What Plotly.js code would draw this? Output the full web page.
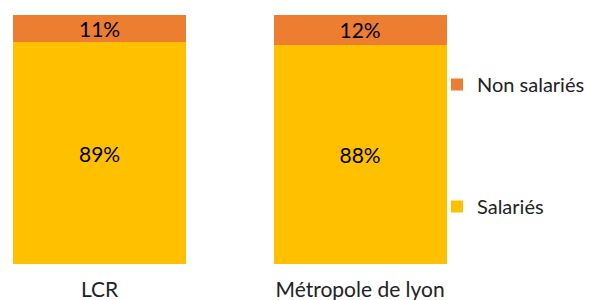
<!DOCTYPE html>
<html><head><meta charset="utf-8">
<script src="https://cdn.plot.ly/plotly-3.0.1.min.js"></script>
<style>body{margin:0}#c{width:589px;height:300px}</style>
</head><body><div id="c"></div>
<script>
const categories = ["LCR", "Métropole de lyon"];
const salaries = [89, 88];
const nonSalaries = [11, 12];
const seriesNames = ["Salariés", "Non salariés"];
const colors = ["#FFC000", "#ED7D31"];
const FONT = "Lato, 'Open Sans', sans-serif";
const FS = 21;

const traces = [
  {type:"bar", x:categories, y:salaries, name:seriesNames[0], marker:{color:colors[0]},
   text:salaries.map(v=>v+"%"), textposition:"inside", insidetextanchor:"middle", constraintext:"none",
   textfont:{color:"#000", size:FS, family:FONT}, hoverinfo:"none", legend:"legend2"},
  {type:"bar", x:categories, y:nonSalaries, name:seriesNames[1], marker:{color:colors[1]},
   text:nonSalaries.map(v=>v+"%"), textposition:"inside", insidetextanchor:"middle", constraintext:"none",
   textfont:{color:"#000", size:FS, family:FONT}, hoverinfo:"none", legend:"legend"}
];
const layout = {
  width:589, height:300, barmode:"stack", bargap:0.336,
  margin:{l:0, r:139, t:15, b:36, autoexpand:false},
  paper_bgcolor:"#fff", plot_bgcolor:"#fff",
  font:{family:FONT, size:FS, color:"#222"},
  xaxis:{range:[-0.382, 1.345], showgrid:false, zeroline:false, showline:false,
         ticks:"", tickfont:{size:FS, color:"#222"}, ticklabelstandoff:11, automargin:false},
  yaxis:{range:[0,100], visible:false, fixedrange:true},
  showlegend:true,
  legend:{x:437/450, xanchor:"left", y:1-50/249, yanchor:"top",
          font:{size:20, color:"#222"}, bgcolor:"rgba(0,0,0,0)"},
  legend2:{x:437/450, xanchor:"left", y:1-172/249, yanchor:"top",
          font:{size:20, color:"#222"}, bgcolor:"rgba(0,0,0,0)"},
  uniformtext:{mode:false}
};
Plotly.newPlot("c", traces, layout, {displayModeBar:false, staticPlot:true});
</script></body></html>
